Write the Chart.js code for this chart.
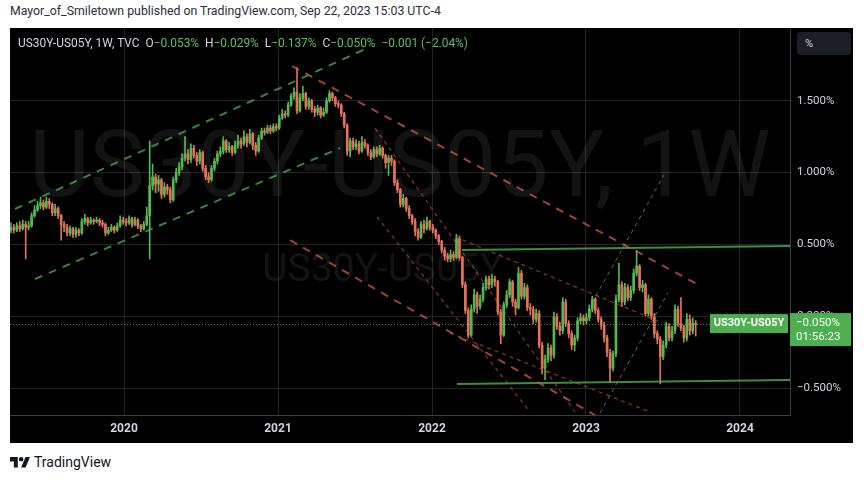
<!DOCTYPE html>
<html>
<head>
<meta charset="utf-8">
<script src="https://cdn.jsdelivr.net/npm/chart.js@4.4.0/dist/chart.umd.min.js"></script>
<style>
  body { margin: 0; width: 865px; height: 480px; background: #fff; position: relative; font-family: Roboto, "DejaVu Sans", sans-serif; overflow: hidden; }
  #hdr { position: absolute; left: 10px; top: 4px; font-size: 12.3px; color: #2a2e39; }
  #panel { position: absolute; left: 10px; top: 28px; width: 843px; height: 415px; background: #000; }
  #legend { position: absolute; left: 8px; top: 8px; font-size: 11.9px; color: #d1d4dc; white-space: pre; }
  #legend .g { color: #5cbf5c; }
  #pct { position: absolute; left: 787px; top: 4px; width: 54px; height: 23px; background: #1c1f26; border-radius: 4px; color: #d1d4dc; font-size: 11px; line-height: 23px; box-sizing: border-box; padding-left: 8px; }
  #foot { position: absolute; left: 10px; top: 454px; font-size: 14px; color: #131722; display: flex; align-items: center; }
  #foot svg { margin-right: 4px; }
</style>
</head>
<body>
<div id="hdr">Mayor_of_Smiletown published on TradingView.com, Sep 22, 2023 15:03 UTC-4</div>
<div id="panel">
  <canvas id="chart" width="843" height="415"></canvas>
  <div id="legend">US30Y-US05Y, 1W, TVC  O<span class="g">−0.053%</span>  H<span class="g">−0.029%</span>  L<span class="g">−0.137%</span>  C<span class="g">−0.050%</span>  <span class="g">−0.001 (−2.04%)</span></div>
  <div id="pct">%</div>
</div>
<div id="foot">
  <svg width="20" height="14" viewBox="0 0 36 24"><path d="M14 22H7V11H0V3h14z" fill="#131722"/><circle cx="20" cy="7" r="4" fill="#131722"/><path d="M28 22h-8l8-19h8z" fill="#131722"/></svg>
  TradingView
</div>
<script>
// weekly candles, first week starting Monday 2019-04-08
const firstWeek = Date.UTC(2019, 3, 8);
const firstOpen = 0.60;

const closes = [
  0.62, 0.60, 0.63, 0.61, 0.64, 0.62, 0.63, 0.70, 0.74, 0.77,
  0.79, 0.76, 0.80, 0.78, 0.72, 0.75, 0.70, 0.64, 0.62, 0.58,
  0.61, 0.57, 0.60, 0.58, 0.66, 0.68, 0.65, 0.67, 0.66, 0.67,
  0.65, 0.64, 0.58, 0.60, 0.62, 0.60, 0.63, 0.67, 0.66, 0.65,
  0.68, 0.64, 0.67, 0.63, 0.61, 0.64, 0.70, 0.91, 0.97, 0.92,
  0.95, 0.85, 0.90, 0.88, 0.81, 0.95, 1.00, 1.04, 1.10, 1.13,
  1.09, 1.17, 1.12, 1.08, 1.14, 1.03, 0.97, 0.95, 1.03, 1.08,
  1.13, 1.15, 1.22, 1.16, 1.18, 1.14, 1.19, 1.22, 1.20, 1.25,
  1.21, 1.27, 1.19, 1.15, 1.24, 1.29, 1.28, 1.31, 1.29, 1.32,
  1.31, 1.38, 1.41, 1.40, 1.47, 1.53, 1.56, 1.43, 1.52, 1.55,
  1.46, 1.50, 1.44, 1.42, 1.45, 1.40, 1.42, 1.50, 1.55, 1.52,
  1.48, 1.47, 1.41, 1.33, 1.15, 1.22, 1.18, 1.20, 1.15, 1.21,
  1.19, 1.14, 1.11, 1.16, 1.13, 1.17, 1.12, 1.07, 1.10, 1.08,
  0.93, 0.88, 0.78, 0.82, 0.75, 0.70, 0.66, 0.59, 0.55, 0.64,
  0.61, 0.66, 0.62, 0.60, 0.56, 0.52, 0.46, 0.42, 0.40, 0.43,
  0.41, 0.54, 0.41, 0.22, 0.04, -0.13, 0.05, 0.15, 0.07, 0.12,
  0.20, 0.26, 0.22, 0.26, 0.24, 0.03, -0.13, 0.08, 0.15, 0.24,
  0.10, 0.06, 0.30, 0.14, 0.20, 0.06, 0.05, -0.02, 0.02, -0.20,
  -0.36, -0.30, -0.22, -0.27, 0.00, -0.07, -0.10, 0.10, -0.05, -0.12,
  -0.20, -0.15, -0.03, -0.01, -0.03, -0.01, 0.05, 0.12, 0.04, -0.02,
  -0.06, -0.15, -0.25, -0.36, -0.26, 0.12, 0.22, 0.10, 0.20, 0.13,
  0.18, 0.30, 0.35, 0.20, 0.22, 0.02, 0.12, 0.00, -0.12, -0.16,
  -0.28, -0.20, -0.07, -0.15, -0.10, 0.05, -0.05, -0.08, -0.15, -0.02,
  -0.10, -0.049, -0.050
];

const highs = [
  0.65, 0.64, 0.65, 0.66, 0.67, 0.66, 0.66, 0.72, 0.77, 0.80,
  0.83, 0.81, 0.83, 0.82, 0.79, 0.78, 0.76, 0.71, 0.66, 0.64,
  0.63, 0.62, 0.62, 0.61, 0.68, 0.71, 0.69, 0.69, 0.68, 0.69,
  0.68, 0.67, 0.65, 0.62, 0.64, 0.63, 0.65, 0.70, 0.69, 0.68,
  0.70, 0.69, 0.69, 0.68, 0.64, 0.66, 0.76, 1.22, 1.06, 0.99,
  0.98, 0.96, 0.93, 0.92, 0.90, 0.97, 1.03, 1.07, 1.13, 1.25,
  1.16, 1.20, 1.19, 1.14, 1.16, 1.15, 1.05, 1.00, 1.05, 1.10,
  1.15, 1.18, 1.25, 1.23, 1.21, 1.19, 1.22, 1.26, 1.24, 1.29,
  1.27, 1.30, 1.28, 1.21, 1.26, 1.31, 1.31, 1.33, 1.33, 1.34,
  1.34, 1.40, 1.44, 1.43, 1.49, 1.55, 1.59, 1.73, 1.55, 1.60,
  1.56, 1.52, 1.51, 1.46, 1.47, 1.46, 1.45, 1.52, 1.57, 1.56,
  1.53, 1.50, 1.48, 1.42, 1.34, 1.24, 1.24, 1.23, 1.22, 1.25,
  1.23, 1.20, 1.16, 1.18, 1.18, 1.19, 1.18, 1.13, 1.12, 1.12,
  1.09, 0.95, 0.89, 0.85, 0.83, 0.77, 0.71, 0.68, 0.61, 0.66,
  0.67, 0.69, 0.67, 0.64, 0.61, 0.57, 0.53, 0.48, 0.44, 0.46,
  0.45, 0.57, 0.56, 0.42, 0.24, 0.06, 0.08, 0.19, 0.17, 0.15,
  0.23, 0.28, 0.28, 0.29, 0.28, 0.25, 0.05, 0.10, 0.18, 0.26,
  0.25, 0.12, 0.34, 0.32, 0.23, 0.22, 0.09, 0.07, 0.05, 0.04,
  -0.18, -0.27, -0.19, -0.20, 0.03, 0.02, -0.04, 0.13, 0.12, -0.03,
  -0.10, -0.13, -0.01, 0.02, 0.01, 0.02, 0.08, 0.14, 0.13, 0.06,
  0.00, -0.04, -0.13, -0.23, -0.24, 0.15, 0.37, 0.24, 0.23, 0.22,
  0.21, 0.33, 0.46, 0.36, 0.25, 0.23, 0.15, 0.13, 0.02, -0.10,
  -0.14, -0.17, -0.04, -0.05, -0.07, 0.08, 0.07, 0.13, -0.06, 0.02,
  0.01, -0.01, -0.029
];

const lows = [
  0.58, 0.58, 0.59, 0.59, 0.60, 0.40, 0.60, 0.62, 0.69, 0.73,
  0.75, 0.74, 0.75, 0.75, 0.70, 0.70, 0.68, 0.53, 0.59, 0.56,
  0.56, 0.55, 0.55, 0.56, 0.57, 0.64, 0.63, 0.64, 0.64, 0.65,
  0.63, 0.62, 0.56, 0.57, 0.59, 0.58, 0.59, 0.62, 0.64, 0.63,
  0.64, 0.62, 0.63, 0.61, 0.59, 0.60, 0.63, 0.40, 0.88, 0.86,
  0.87, 0.82, 0.83, 0.85, 0.79, 0.80, 0.93, 0.98, 1.02, 1.08,
  1.06, 1.07, 1.10, 1.05, 1.06, 1.01, 0.95, 0.93, 0.94, 1.01,
  1.06, 1.11, 1.13, 1.14, 1.14, 1.12, 1.13, 1.17, 1.17, 1.19,
  1.18, 1.20, 1.16, 1.12, 1.14, 1.23, 1.26, 1.27, 1.27, 1.28,
  1.29, 1.30, 1.37, 1.38, 1.39, 1.46, 1.51, 1.41, 1.42, 1.50,
  1.44, 1.44, 1.42, 1.39, 1.40, 1.38, 1.39, 1.41, 1.49, 1.50,
  1.46, 1.45, 1.39, 1.31, 1.12, 1.11, 1.16, 1.16, 1.13, 1.14,
  1.17, 1.12, 1.09, 1.10, 1.11, 1.12, 1.10, 1.03, 0.98, 1.05,
  0.91, 0.86, 0.76, 0.76, 0.73, 0.68, 0.64, 0.56, 0.53, 0.54,
  0.58, 0.60, 0.60, 0.58, 0.54, 0.50, 0.44, 0.39, 0.38, 0.38,
  0.39, 0.40, 0.39, 0.20, 0.02, -0.15, -0.14, 0.03, 0.02, 0.05,
  0.10, 0.18, 0.19, 0.20, 0.21, 0.01, -0.19, -0.14, 0.06, 0.13,
  0.07, 0.01, 0.05, 0.12, 0.12, 0.04, 0.01, -0.05, -0.04, -0.22,
  -0.40, -0.44, -0.32, -0.31, -0.29, -0.09, -0.13, -0.12, -0.07, -0.15,
  -0.23, -0.24, -0.17, -0.05, -0.06, -0.05, -0.03, 0.03, 0.02, -0.04,
  -0.09, -0.18, -0.28, -0.46, -0.38, -0.28, 0.10, 0.07, 0.08, 0.11,
  0.11, 0.16, 0.28, 0.18, 0.17, 0.00, 0.00, -0.02, -0.15, -0.19,
  -0.47, -0.30, -0.22, -0.17, -0.17, -0.12, -0.07, -0.10, -0.18, -0.17,
  -0.13, -0.12, -0.137
];

const yearTicks = [2020, 2021, 2022, 2023, 2024];
const priceTicks = [-0.5, 0, 0.5, 1.0, 1.5];

// drawn trendlines: [year1, value1, year2, value2]
const channelLines = [[2019.292, 0.747, 2021.584, 1.868], [2019.422, 0.260, 2021.403, 1.171]];
const fallLines = [[2021.091, 1.741, 2023.721, 0.225], [2021.078, 0.531, 2023.058, -0.686]];
const thinRedLines = [
  [2021.630, 1.310, 2022.929, -0.665],
  [2021.643, 0.693, 2022.636, -0.665],
  [2022.149, 0.554, 2023.481, -0.039],
  [2022.117, -0.115, 2023.416, -0.665]
];
const rangeLines = [[2022.195, 0.462, 2024.325, 0.490], [2022.162, -0.470, 2024.325, -0.442]];
const fanLines = [[2023.013, 0.045, 2023.506, 0.984], [2023.091, -0.672, 2023.532, 0.163]];

const symbol = "US30Y-US05Y";
const countdown = "01:56:23";

const UP = "#55b94f";
const DOWN = "#e2735a";
const GRID = "#232323";
const TEXT = "#d1d4dc";

function toYear(ms) {
  const d = new Date(ms);
  const y = d.getUTCFullYear();
  const a = Date.UTC(y, 0, 1), b = Date.UTC(y + 1, 0, 1);
  return y + (ms - a) / (b - a);
}

const weekX = closes.map((c, i) => toYear(firstWeek + i * 7 * 864e5));
const opens = closes.map((c, i) => (i === 0 ? firstOpen : closes[i - 1]));
const isUp = closes.map((c, i) => c >= opens[i]);

function fmtPct(v) {
  const s = Math.abs(v).toFixed(3) + "%";
  return v < 0 ? "−" + s : s;
}

function lineSets(list, color, width, dash) {
  return list.map(l => ({
    type: "line",
    data: [{ x: l[0], y: l[1] }, { x: l[2], y: l[3] }],
    borderColor: color,
    borderWidth: width,
    borderDash: dash,
    pointRadius: 0,
    order: 1
  }));
}

function noPad(s) {
  s.paddingTop = 0;
  s.paddingBottom = 0;
  s.paddingLeft = 0;
  s.paddingRight = 0;
}

const watermark = {
  id: "watermark",
  beforeDatasetsDraw(chart) {
    const { ctx, chartArea: a, scales } = chart;
    ctx.save();
    ctx.fillStyle = "rgba(255,255,255,0.075)";
    ctx.textAlign = "center";
    ctx.textBaseline = "middle";
    let t = symbol + ", 1W";
    ctx.font = "100px Roboto";
    let w = ctx.measureText(t).width;
    ctx.font = Math.round(100 * (a.width * 0.95) / w) + "px Roboto";
    ctx.fillText(t, a.left + a.width * 0.5, a.top + a.height * 0.375);
    ctx.font = "100px Roboto";
    w = ctx.measureText(symbol).width;
    ctx.font = Math.round(100 * (a.width * 0.31) / w) + "px Roboto";
    ctx.fillText(symbol, a.left + a.width * 0.478, a.top + a.height * 0.628);
    // last price dotted line
    const y = Math.round(scales.y.getPixelForValue(closes[closes.length - 1])) + 0.5;
    ctx.strokeStyle = "rgba(120,190,120,0.7)";
    ctx.lineWidth = 1;
    ctx.setLineDash([1, 2]);
    ctx.beginPath();
    ctx.moveTo(a.left, y);
    ctx.lineTo(a.right, y);
    ctx.stroke();
    ctx.restore();
  },
  afterDraw(chart) {
    const { ctx, chartArea: a, scales } = chart;
    const last = closes[closes.length - 1];
    const y = scales.y.getPixelForValue(last);
    ctx.save();
    ctx.fillStyle = "#4caf50";
    ctx.fillRect(a.right - 80, y - 9.5, 78, 19);
    ctx.fillRect(a.right, y - 10.5, 61, 33);
    ctx.fillStyle = "#fff";
    ctx.textBaseline = "middle";
    ctx.textAlign = "center";
    ctx.font = "bold 11px Roboto";
    ctx.fillText(symbol, a.right - 41, y);
    ctx.textAlign = "left";
    ctx.font = "11.5px Roboto";
    ctx.fillText(fmtPct(last), a.right + 6, y - 0.5);
    ctx.fillText(countdown, a.right + 6, y + 14);
    ctx.restore();
  }
};

const ctx = document.getElementById("chart");

new Chart(ctx, {
  type: "bar",
  data: {
    datasets: [
      ...lineSets(channelLines, "rgba(76,175,80,0.75)", 2, [8, 7]),
      ...lineSets(fallLines, "rgba(214,90,70,0.75)", 2, [8, 7]),
      ...lineSets(thinRedLines, "rgba(200,85,70,0.65)", 1.2, [4, 4]),
      ...lineSets(rangeLines, "rgba(76,175,80,0.8)", 2, []),
      ...lineSets(fanLines, "rgba(120,160,130,0.7)", 1, [4, 4]),
      {
        label: "wicks",
        data: weekX.map((x, i) => ({ x: x, y: [lows[i], highs[i]] })),
        backgroundColor: ctx => (isUp[ctx.dataIndex] ? UP : DOWN),
        barThickness: 1,
        grouped: false,
        order: 3
      },
      {
        label: "bodies",
        data: weekX.map((x, i) => ({ x: x, y: [opens[i], closes[i]] })),
        backgroundColor: ctx => (isUp[ctx.dataIndex] ? UP : DOWN),
        barThickness: 2,
        minBarLength: 1,
        grouped: false,
        order: 2
      }
    ]
  },
  options: {
    responsive: false,
    animation: false,
    events: [],
    layout: { padding: 0 },
    plugins: { legend: { display: false }, tooltip: { enabled: false } },
    scales: {
      x: {
        type: "linear",
        offset: false,
        min: 2019.2597,
        max: 2024.3247,
        afterBuildTicks: s => { s.ticks = yearTicks.map(v => ({ value: v })); },
        afterFit: s => { s.height = 28; noPad(s); },
        ticks: {
          callback: v => String(v),
          color: TEXT,
          font: { family: "Roboto", size: 12, weight: "bold" },
          padding: 7,
          autoSkip: false,
          maxRotation: 0
        },
        grid: { color: GRID, drawTicks: false, offset: false },
        border: { color: "#3a3d44" }
      },
      y: {
        type: "linear",
        position: "right",
        min: -0.686,
        max: 2.006,
        afterBuildTicks: s => { s.ticks = priceTicks.map(v => ({ value: v })); },
        afterFit: s => { s.width = 63; noPad(s); },
        ticks: {
          callback: v => fmtPct(v),
          color: TEXT,
          font: { family: "Roboto", size: 11.5 },
          padding: 7
        },
        grid: { color: GRID, drawTicks: false },
        border: { color: "#3a3d44" }
      }
    }
  },
  plugins: [watermark]
});
</script>
</body>
</html>
